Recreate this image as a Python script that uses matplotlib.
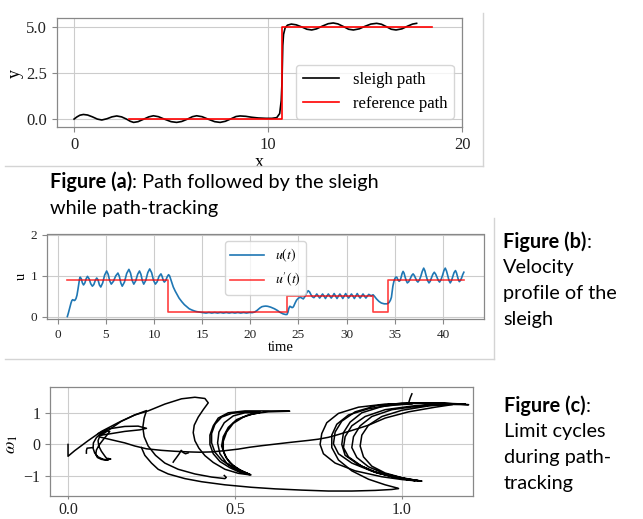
import matplotlib
matplotlib.use("Agg")
import matplotlib.pyplot as plt
from matplotlib.lines import Line2D

W, H = 643, 519
plt.rcParams['font.family'] = ['Liberation Serif', 'DejaVu Serif']
plt.rcParams['mathtext.fontset'] = 'stix'

# ---- panel (a): path ----
sleigh_x = [0.0, 0.15, 0.3, 0.48, 0.7, 0.95, 1.2, 1.43, 1.7, 1.95, 2.2, 2.45, 2.7, 2.9, 3.07,
            3.3, 3.6, 3.85, 4.09, 4.35, 4.65, 5.0, 5.29, 5.55, 5.85, 6.1, 6.32, 6.6, 6.9, 7.25,
            7.53, 7.8, 8.1, 8.35, 8.56, 8.85, 9.15, 9.5, 9.9, 10.2, 10.45, 10.6, 10.68, 10.72,
            10.74, 10.76, 10.8, 10.88, 11.0, 11.2, 11.45, 11.75, 12.0, 12.25, 12.5, 12.8, 13.1,
            13.36, 13.6, 13.9, 14.15, 14.4, 14.7, 15.0, 15.3, 15.6, 15.85, 16.1, 16.35, 16.6,
            16.9, 17.2, 17.45, 17.66]
sleigh_y = [0.0, 0.12, 0.21, 0.25, 0.22, 0.12, 0.0, -0.05, 0.02, 0.12, 0.17, 0.12, 0.0, -0.12, -0.18,
            -0.14, 0.0, 0.12, 0.18, 0.13, 0.0, -0.14, -0.18, -0.13, 0.0, 0.13, 0.18, 0.13, 0.0, -0.14,
            -0.18, -0.12, 0.02, 0.14, 0.17, 0.15, 0.1, 0.06, 0.04, 0.04, 0.08, 0.3, 1.0, 2.0,
            3.0, 4.0, 4.6, 4.95, 5.1, 5.16, 5.12, 5.0, 4.88, 4.84, 4.9, 5.05, 5.18,
            5.22, 5.17, 5.02, 4.88, 4.84, 4.9, 5.04, 5.16, 5.2, 5.15, 5.02, 4.88, 4.84,
            4.9, 5.05, 5.16, 5.2]
ref_x = [2.85, 10.7, 10.7, 18.45]
ref_y = [0.0, 0.0, 5.0, 5.0]

# ---- panel (b): velocity, read in three phases ----
t_phase1 = [1.0, 1.1, 1.2, 1.3, 1.38, 1.47, 1.55, 1.65, 1.72, 1.8, 1.9, 2.0, 2.1, 2.2, 2.27,
            2.33, 2.45, 2.56, 2.68, 2.82, 2.95, 3.09, 3.26, 3.43, 3.6, 3.75, 3.9, 4.05, 4.19,
            4.33, 4.47, 4.67, 4.87, 5.08, 5.24, 5.4, 5.56, 5.79, 6.02, 6.25, 6.4, 6.55, 6.7,
            6.93, 7.16, 7.39, 7.56, 7.73, 7.9, 8.1, 8.3, 8.49, 8.64, 8.79, 8.93, 9.14, 9.35,
            9.55, 9.75, 9.95, 10.14, 10.33, 10.52, 10.72, 10.84, 10.96, 11.07, 11.22, 11.37,
            11.51, 11.62, 11.75, 11.85, 12.0, 12.2, 12.37, 12.6, 12.89, 13.15, 13.4, 13.65,
            13.92, 14.2, 14.43, 14.8, 15.1]
u_phase1 = [0.0, 0.08, 0.17, 0.27, 0.33, 0.39, 0.41, 0.4, 0.39, 0.4, 0.44, 0.52, 0.66, 0.82, 0.92,
            0.96, 0.92, 0.82, 0.77, 0.82, 0.92, 0.98, 0.92, 0.8, 0.74, 0.78, 0.88, 0.94, 0.89,
            0.77, 0.72, 0.82, 1.01, 1.11, 1.03, 0.87, 0.79, 0.86, 0.99, 1.06, 0.98, 0.82, 0.74,
            0.84, 1.05, 1.15, 1.06, 0.88, 0.79, 0.87, 1.03, 1.11, 1.03, 0.87, 0.79, 0.88, 1.07,
            1.16, 1.07, 0.88, 0.79, 0.85, 0.98, 1.04, 0.98, 0.88, 0.84, 0.88, 0.97,
            1.02, 0.99, 0.9, 0.83, 0.72, 0.62, 0.55, 0.45, 0.36, 0.29, 0.24, 0.19,
            0.16, 0.135, 0.12, 0.105, 0.095]
t_phase2 = [15.4, 15.7, 16.0, 16.3, 16.6, 16.9, 17.2, 17.5, 17.8, 18.1, 18.4, 18.7, 19.0, 19.3,
            19.6, 19.9, 20.2, 20.45, 20.7, 21.0, 21.2, 21.4, 21.6, 21.8, 22.1, 22.5, 22.8, 23.1,
            23.4, 23.65, 23.8, 23.9, 24.0, 24.1, 24.2, 24.3, 24.4, 24.5, 24.65, 24.8, 25.0, 25.2,
            25.35, 25.5, 25.65, 25.8, 26.0, 26.15, 26.3, 26.45, 26.6, 26.75, 26.9, 27.05, 27.2,
            27.35, 27.5, 27.65, 27.8, 27.95, 28.1, 28.25, 28.4, 28.55, 28.7, 28.85, 29.0, 29.15,
            29.3, 29.45, 29.6, 29.75, 29.9, 30.05, 30.2, 30.35, 30.5, 30.65, 30.8, 30.95, 31.1,
            31.25, 31.4, 31.55, 31.7, 31.85, 32.0, 32.15, 32.3, 32.45, 32.55, 32.65, 32.75, 32.9,
            33.1, 33.35, 33.6, 33.9, 34.2, 34.4, 34.55, 34.65]
u_phase2 = [0.085, 0.098, 0.085, 0.098, 0.085, 0.098, 0.085, 0.098, 0.085, 0.098, 0.085, 0.098,
            0.085, 0.098, 0.085, 0.098, 0.095, 0.11, 0.15, 0.21, 0.24, 0.25, 0.255, 0.25, 0.23,
            0.19, 0.15, 0.1, 0.065, 0.05, 0.05, 0.1, 0.2, 0.25, 0.24, 0.22, 0.22, 0.25, 0.33, 0.4,
            0.45, 0.47, 0.45, 0.43, 0.48, 0.56, 0.63, 0.6, 0.53, 0.48, 0.46, 0.5, 0.55, 0.5, 0.45,
            0.5, 0.55, 0.5, 0.44, 0.5, 0.55, 0.5, 0.45, 0.5, 0.56, 0.5, 0.44, 0.5,
            0.55, 0.5, 0.44, 0.5, 0.56, 0.5, 0.45, 0.5, 0.55, 0.5, 0.44, 0.5, 0.56,
            0.5, 0.45, 0.5, 0.55, 0.5, 0.45, 0.5, 0.54, 0.52, 0.5, 0.52, 0.53, 0.49,
            0.43, 0.37, 0.33, 0.31, 0.31, 0.34, 0.4, 0.47]
t_phase3 = [34.72, 34.8, 34.9, 35.0, 35.1, 35.2, 35.32, 35.45, 35.55, 35.65, 35.76, 35.86, 35.96,
            36.05, 36.18, 36.3, 36.45, 36.6, 36.75, 36.9, 37.03, 37.15, 37.28, 37.4, 37.55, 37.7,
            37.85, 38.0, 38.12, 38.25, 38.4, 38.55, 38.68, 38.8, 38.95, 39.1, 39.25, 39.4, 39.52,
            39.65, 39.8, 39.95, 40.1, 40.24, 40.37, 40.5, 40.63, 40.76, 40.88, 41.0, 41.15, 41.3,
            41.4, 41.5, 41.6, 41.7, 41.82, 41.95, 42.05, 42.17]
u_phase3 = [0.6, 0.74, 0.85, 0.92, 0.96, 0.96, 0.9, 0.86, 0.88, 0.95, 1.05, 1.1, 1.06,
            0.98, 0.88, 0.82, 0.85, 0.92, 1.0, 1.04, 1.0, 0.94, 0.87, 0.84, 0.89, 0.98,
            1.1, 1.18, 1.12, 1.0, 0.88, 0.82, 0.86, 0.94, 1.03, 1.08, 1.03, 0.95, 0.88,
            0.84, 0.9, 1.0, 1.12, 1.18, 1.11, 1.0, 0.88, 0.82, 0.87, 0.96, 1.07, 1.12,
            1.07, 0.98, 0.9, 0.85, 0.88, 0.95, 1.02, 1.08]
t_ref = [0.95, 11.45, 23.8, 32.7, 34.3, 42.2]
u_ref = [0.9, 0.1, 0.5, 0.1, 0.9, 0.9]

# ---- panel (c): limit cycles (u, omega1), traced strokes ----
start_x = [0.0, 0.0, 0.02, 0.06, 0.1, 0.15, 0.2, 0.24, 0.29, 0.34, 0.38, 0.41, 0.42, 0.405, 0.39,
           0.378, 0.375, 0.38, 0.392, 0.41, 0.435, 0.47, 0.51, 0.545]
start_y = [0.0, -0.38, -0.2, 0.12, 0.42, 0.7, 0.95, 1.08, 1.3, 1.47, 1.52, 1.48, 1.34, 1.12, 0.88,
           0.62, 0.38, 0.12, -0.12, -0.36, -0.58, -0.8, -0.93, -0.98]
swoop_x = [0.1, 0.16, 0.2, 0.235, 0.228, 0.224, 0.228, 0.24, 0.262, 0.29, 0.33, 0.38, 0.43, 0.47,
           0.474, 0.468]
swoop_y = [0.3, 0.75, 0.95, 1.09, 0.85, 0.55, 0.25, -0.05, -0.35, -0.6, -0.8, -0.95, -1.05, -1.1,
           -1.06, -1.0]
slow_x = [0.115, 0.1, 0.085, 0.076, 0.075, 0.08, 0.09, 0.105, 0.12, 0.112, 0.1, 0.092, 0.09,
          0.095, 0.105, 0.115, 0.125, 0.118, 0.105, 0.093, 0.085, 0.083, 0.088, 0.1, 0.113,
          0.128, 0.12]
slow_y = [0.45, 0.38, 0.22, 0.05, -0.12, -0.28, -0.4, -0.48, -0.5, -0.4, -0.22, -0.05, 0.12,
          0.27, 0.38, 0.44, 0.42, 0.32, 0.15, -0.02, -0.18, -0.32, -0.42, -0.48, -0.5,
          -0.47, -0.45]
tongue_x = [0.09, 0.12, 0.17, 0.21, 0.235, 0.215, 0.17, 0.13, 0.1]
tongue_y = [0.35, 0.5, 0.58, 0.59, 0.52, 0.47, 0.42, 0.35, 0.3]
hook_x = [0.055, 0.055, 0.057, 0.075]
hook_y = [-0.28, -0.2, -0.12, -0.1]
cross_x = [0.095, 0.13, 0.17, 0.2, 0.235, 0.28, 0.32, 0.36, 0.394, 0.43, 0.47, 0.51, 0.544, 0.58,
           0.62, 0.66, 0.694, 0.72, 0.75, 0.78, 0.81, 0.85, 0.9, 0.95, 1.02, 1.1, 1.15]
cross_y = [0.24, 0.15, 0.05, -0.05, -0.14, -0.19, -0.22, -0.24, -0.25, -0.24, -0.2, -0.15, -0.09,
           -0.04, 0.01, 0.06, 0.1, 0.13, 0.17, 0.23, 0.32, 0.45, 0.62, 0.85, 1.05, 1.2, 1.28]
zig_x = [0.315, 0.318, 0.325, 0.333, 0.339, 0.345, 0.352, 0.36]
zig_y = [-0.57, -0.52, -0.42, -0.3, -0.19, -0.26, -0.3, -0.27]
low_x = [0.22, 0.23, 0.25, 0.27, 0.3, 0.35, 0.4, 0.47, 0.55, 0.62, 0.7, 0.78, 0.85, 0.92, 0.97,
         0.99, 0.985, 0.95, 0.9, 0.85, 0.81, 0.79, 0.79, 0.805, 0.84, 0.9, 0.97, 1.03]
low_y = [-0.1, -0.35, -0.6, -0.8, -0.95, -1.1, -1.2, -1.3, -1.38, -1.43, -1.47, -1.5, -1.5, -1.48,
         -1.45, -1.42, -1.4, -1.3, -1.12, -0.85, -0.5, -0.1, 0.3, 0.65, 0.95, 1.15, 1.27, 1.3]
mid_x = [0.574, 0.53, 0.49, 0.46, 0.44, 0.43, 0.43, 0.44, 0.46, 0.49, 0.52, 0.545, 0.52, 0.495,
         0.475, 0.465, 0.465, 0.475, 0.495, 0.525, 0.555, 0.6, 0.664, 0.6, 0.53, 0.48, 0.45,
         0.435, 0.425, 0.425, 0.435, 0.455, 0.485, 0.515, 0.548, 0.51, 0.485, 0.47, 0.46, 0.465,
         0.48, 0.505, 0.54, 0.574, 0.53, 0.495, 0.468, 0.452, 0.448, 0.455, 0.475, 0.505, 0.54]
mid_y = [1.04, 1.05, 1.0, 0.88, 0.65, 0.35, 0.05, -0.25, -0.5, -0.72, -0.88, -0.97, -0.85, -0.68,
         -0.45, -0.2, 0.1, 0.4, 0.68, 0.88, 0.99, 1.05, 1.07, 1.08, 1.08, 1.02, 0.85,
         0.6, 0.3, 0.0, -0.3, -0.55, -0.75, -0.9, -0.98, -0.8, -0.6, -0.35, -0.05, 0.25,
         0.55, 0.8, 0.95, 1.02, 1.02, 0.92, 0.7, 0.4, 0.05, -0.3, -0.6, -0.82, -0.96]
fast_x = [1.15, 1.05, 0.95, 0.87, 0.81, 0.775, 0.76, 0.755, 0.765, 0.8, 0.86, 0.94, 1.0, 1.04,
          0.99, 0.93, 0.88, 0.84, 0.825, 0.83, 0.85, 0.89, 0.95, 1.04, 1.12, 1.19,
          1.1, 1.0, 0.92, 0.86, 0.82, 0.8, 0.795, 0.81, 0.85, 0.91, 0.98, 1.02, 1.06,
          1.01, 0.95, 0.9, 0.865, 0.85, 0.855, 0.875, 0.91, 0.97, 1.06, 1.14, 1.2,
          1.12, 1.02, 0.94, 0.88, 0.845, 0.825, 0.82, 0.83, 0.87, 0.92, 0.98, 1.02, 1.05,
          1.0, 0.95, 0.91, 0.885, 0.875, 0.88, 0.9, 0.94, 1.0, 1.08, 1.15]
fast_y = [1.3, 1.33, 1.3, 1.2, 1.0, 0.7, 0.35, 0.0, -0.3, -0.6, -0.85, -1.04, -1.13, -1.17,
          -1.08, -0.93, -0.7, -0.4, -0.1, 0.25, 0.6, 0.9, 1.12, 1.25, 1.29, 1.3,
          1.34, 1.33, 1.24, 1.05, 0.75, 0.4, 0.02, -0.3, -0.6, -0.86, -1.05, -1.13, -1.18,
          -1.1, -0.95, -0.72, -0.42, -0.1, 0.25, 0.6, 0.9, 1.12, 1.25, 1.29, 1.28,
          1.33, 1.32, 1.22, 1.02, 0.72, 0.38, 0.0, -0.35, -0.65, -0.9, -1.06, -1.14, -1.17,
          -1.07, -0.92, -0.7, -0.4, -0.05, 0.3, 0.62, 0.9, 1.1, 1.24, 1.3]
spike_x = [1.02, 1.025, 1.03]
spike_y = [1.33, 1.5, 1.63]


def rect(x0, y0, x1, y1):
    return [x0 / W, 1 - y1 / H, (x1 - x0) / W, (y1 - y0) / H]


def style(ax, size):
    ax.grid(True, color='#cccccc', lw=0.8)
    ax.set_axisbelow(True)
    for s in ax.spines.values():
        s.set_color('#888888')
        s.set_linewidth(0.9)
    ax.tick_params(colors='#888888', labelcolor='#222222', labelsize=size, length=3.5, width=0.8)


fig = plt.figure(figsize=(W / 100, H / 100), dpi=100)

# (a)
axa = fig.add_axes(rect(57, 18, 462, 127))
axa.plot(sleigh_x, sleigh_y, color='black', lw=1.2, label='sleigh path')
axa.plot(ref_x, ref_y, color='red', lw=1.2, label='reference path')
axa.set_xlim(-0.88, 20)
axa.set_ylim(-0.43, 5.49)
axa.set_xticks([0, 10, 20])
axa.set_yticks([0, 2.5, 5])
axa.set_yticklabels(['0.0', '2.5', '5.0'])
style(axa, 12)
axa.set_xlabel('x', fontsize=13)
axa.set_ylabel('y', fontsize=13)
axa.xaxis.set_label_coords(0.5, -0.33)
axa.xaxis.label.set_va('center')
axa.yaxis.set_label_coords(-0.104, 0.495)
axa.yaxis.label.set_va('center')
axa.legend(loc='lower right', fontsize=12, edgecolor='#cccccc', handlelength=2.2)

# (b)
axb = fig.add_axes(rect(47, 234.5, 484, 319))
axb.plot(t_phase1 + t_phase2 + t_phase3, u_phase1 + u_phase2 + u_phase3,
         color='#1f77b4', lw=1.2, label=r'$u(t)$')
axb.step(t_ref, u_ref, where='post', color='red', alpha=0.75, lw=1.2, label=r"$u'(t)$")
axb.set_ylim(-0.06, 2.0)
axb.set_xticks(range(0, 45, 5))
axb.set_yticks([0, 1, 2])
style(axb, 9.5)
axb.set_xlabel('time', fontsize=10.5)
axb.set_ylabel('u', fontsize=10.5)
axb.xaxis.set_label_coords(0.535, -0.34)
axb.xaxis.label.set_va('center')
axb.yaxis.set_label_coords(-0.058, 0.509)
axb.yaxis.label.set_va('center')
axb.legend(loc='upper center', fontsize=10, edgecolor='#cccccc', handlelength=2.4)

# (c)
axc = fig.add_axes(rect(50, 387, 473, 496))
for xs, ys in [(start_x, start_y), (swoop_x, swoop_y), (slow_x, slow_y), (tongue_x, tongue_y),
               (hook_x, hook_y), (cross_x, cross_y), (zig_x, zig_y), (low_x, low_y),
               (mid_x, mid_y), (fast_x, fast_y), (spike_x, spike_y)]:
    axc.plot(xs, ys, color='black', lw=1.1)
axc.set_xlim(-0.054, 1.213)
axc.set_ylim(-1.66, 1.85)
axc.set_xticks([0.0, 0.5, 1.0])
axc.set_xticklabels(['0.0', '0.5', '1.0'])
axc.set_yticks([-1, 0, 1])
axc.set_yticklabels(['\u22121', '0', '1'])
style(axc, 11.5)
axc.tick_params(axis='x', length=2.5, pad=1.5)
axc.set_ylabel(r'$\omega_1$', fontsize=13)
axc.yaxis.set_label_coords(-0.09, 0.477)
axc.yaxis.label.set_va('center')

# frame lines of the pasted panels
for xs, ys in [([5, 483], [166, 166]), ([483, 483], [13, 166]),
               ([5, 494], [359, 359]), ([494, 494], [218, 359])]:
    fig.add_artist(Line2D([x / W for x in xs], [1 - y / H for y in ys],
                          color='#d4d4d4', lw=1))

# captions
cap_font = ['Lato', 'DejaVu Sans']
cap_size = 14.3
fig.canvas.draw()
renderer = fig.canvas.get_renderer()


def caption(x, y, bold, rest, more):
    t = fig.text(x / W, 1 - y / H, bold, family=cap_font, fontsize=cap_size, weight='bold',
                 va='baseline', ha='left')
    bb = t.get_window_extent(renderer)
    fig.text(bb.x1 / W, 1 - y / H, rest, family=cap_font, fontsize=cap_size,
             va='baseline', ha='left')
    for i, line in enumerate(more):
        fig.text(x / W, 1 - (y + 25.5 * (i + 1)) / H, line, family=cap_font, fontsize=cap_size,
                 va='baseline', ha='left')


caption(50, 188, 'Figure (a)', ': Path followed by the sleigh', ['while path-tracking'])
caption(503, 248, 'Figure (b)', ':', ['Velocity', 'profile of the', 'sleigh'])
caption(504, 412, 'Figure (c)', ':', ['Limit cycles', 'during path-', 'tracking'])

fig.savefig('out.png', dpi=100)
